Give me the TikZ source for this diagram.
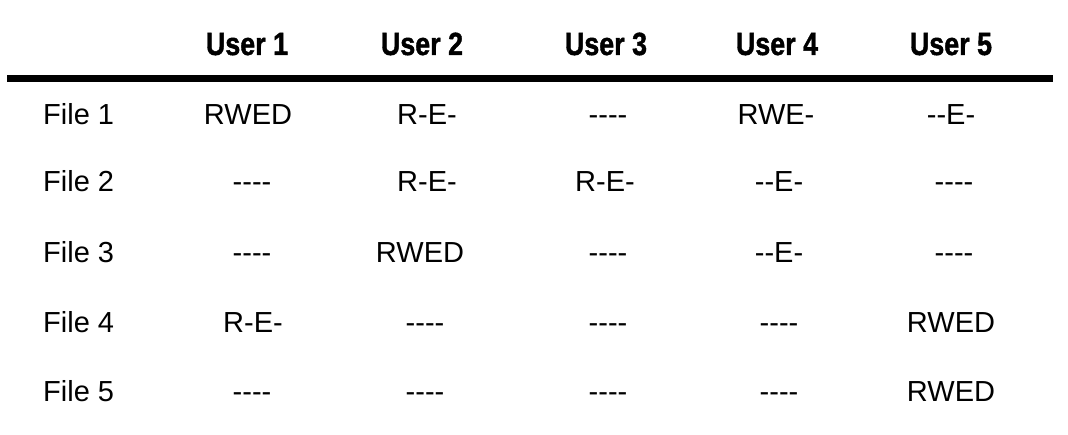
\documentclass[tikz,border=0pt]{standalone}
\usepackage{fontspec}
\usepackage{graphicx}
\setmainfont{Liberation Sans}[Ligatures=TeXOff]
\newfontfamily\headfont{Liberation Sans Bold}[Ligatures=TeXOff,FakeBold=1.5]
\tikzset{
  cell/.style={anchor=base, inner sep=0pt, font=\fontsize{29}{34}\selectfont},
  rowlab/.style={anchor=base west, inner sep=0pt, font=\fontsize{29}{34}\selectfont},
  head/.style={anchor=base, inner sep=0pt, font=\fontsize{32}{38}\headfont},
  rule/.style={line width=6.5pt}
}
\newcommand{\hd}[1]{\scalebox{0.84}[1]{#1}}
\begin{document}
\begin{tikzpicture}[x=1pt,y=-1pt]
\useasboundingbox (0,0) rectangle (1068,435);
% header
\node[head] (h1) at (247,55) {\hd{User 1}};
\node[head] (h2) at (422,55) {\hd{User 2}};
\node[head] (h3) at (606,55) {\hd{User 3}};
\node[head] (h4) at (777,55) {\hd{User 4}};
\node[head] (h5) at (951,55) {\hd{User 5}};
\coordinate (l1) at (7,78.5);
\coordinate (l2) at (1053,78.5);
\draw[rule] (l1) -- (l2);
% rows
\node[rowlab] (f1) at (43,125) {File 1};
\node[rowlab] (f2) at (43,192) {File 2};
\node[rowlab] (f3) at (43,263) {File 3};
\node[rowlab] (f4) at (43,333) {File 4};
\node[rowlab] (f5) at (43,402) {File 5};
% File 1
\node[cell] (c11) at (248,125) {RWED};
\node[cell] (c12) at (427,125) {R-E-};
\node[cell] (c13) at (608,125) {----};
\node[cell] (c14) at (776,125) {RWE-};
\node[cell] (c15) at (951,125) {--E-};
% File 2
\node[cell] (c21) at (252,192) {----};
\node[cell] (c22) at (427,192) {R-E-};
\node[cell] (c23) at (605,192) {R-E-};
\node[cell] (c24) at (779,192) {--E-};
\node[cell] (c25) at (954,192) {----};
% File 3
\node[cell] (c31) at (252,263) {----};
\node[cell] (c32) at (420,263) {RWED};
\node[cell] (c33) at (608,263) {----};
\node[cell] (c34) at (779,263) {--E-};
\node[cell] (c35) at (954,263) {----};
% File 4
\node[cell] (c41) at (253,333) {R-E-};
\node[cell] (c42) at (425,333) {----};
\node[cell] (c43) at (608,333) {----};
\node[cell] (c44) at (779,333) {----};
\node[cell] (c45) at (951,333) {RWED};
% File 5
\node[cell] (c51) at (252,402) {----};
\node[cell] (c52) at (425,402) {----};
\node[cell] (c53) at (608,402) {----};
\node[cell] (c54) at (779,402) {----};
\node[cell] (c55) at (951,402) {RWED};
\end{tikzpicture}
\end{document}
